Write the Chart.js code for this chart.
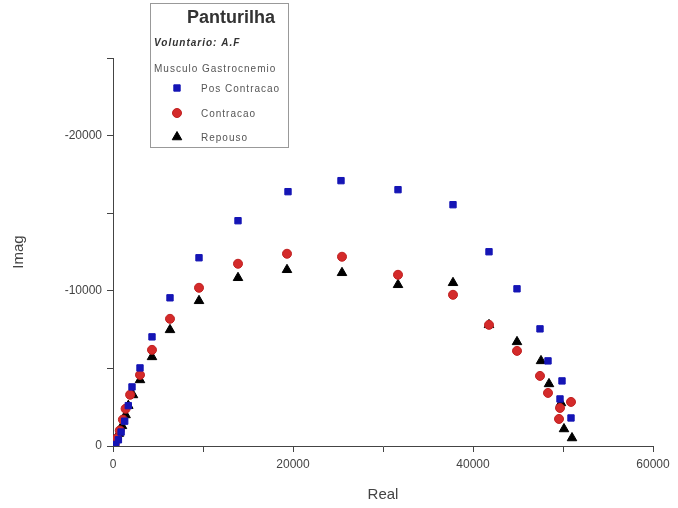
<!DOCTYPE html>
<html lang="pt">
<head>
<meta charset="UTF-8">
<title>Panturilha</title>
<script src="https://cdn.jsdelivr.net/npm/chart.js"></script>
<style>
  body { margin: 0; background: #fff; }
  #wrap { width: 678px; height: 508px; }
</style>
</head>
<body>
<div id="wrap"><canvas id="grafico" width="678" height="508"></canvas></div>
<script>
// dados (Real, Imag)
const posX = [300, 600, 900, 1300, 1700, 2111, 3000, 4333, 6333, 9556, 13889, 19444, 25333, 31667, 37778, 41778, 44889, 47444, 48333, 49889, 49667, 50889];
const posY = [-100, -400, -900, -1600, -2600, -3806, -5032, -7032, -9548, -12129, -14516, -16387, -17097, -16516, -15548, -12516, -10129, -7548, -5484, -4194, -3032, -1806];

const conX = [200, 450, 750, 1100, 1400, 1900, 3000, 4333, 6333, 9556, 13889, 19333, 25444, 31667, 37778, 41778, 44889, 47444, 48333, 49667, 50889, 49556];
const conY = [-150, -500, -1000, -1700, -2400, -3300, -4581, -6194, -8194, -10194, -11742, -12387, -12194, -11032, -9742, -7806, -6129, -4516, -3419, -2452, -2839, -1742];

const repX = [150, 350, 650, 1000, 1400, 1700, 2222, 3000, 4333, 6333, 9556, 13889, 19333, 25444, 31667, 37778, 41778, 44889, 47556, 48444, 49778, 50111, 51000];
const repY = [-100, -400, -800, -1300, -2000, -2600, -3290, -4258, -5742, -7484, -9355, -10839, -11355, -11161, -10387, -10516, -7806, -6710, -5484, -4000, -2774, -1097, -516];

const nomes = ['Pos Contracao', 'Contracao', 'Repouso'];

function pares(xs, ys) {
  return xs.map((x, i) => ({ x: x, y: ys[i] }));
}

// caixa de legenda desenhada no canvas
const caixaLegenda = {
  id: 'caixaLegenda',
  afterDraw(chart) {
    const ctx = chart.ctx;
    ctx.save();
    ctx.fillStyle = '#fff';
    ctx.fillRect(150, 3, 138, 144);
    ctx.strokeStyle = '#999';
    ctx.lineWidth = 1;
    ctx.strokeRect(150.5, 3.5, 138, 144);

    ctx.fillStyle = '#333';
    ctx.textBaseline = 'middle';
    ctx.font = 'bold 18px Arial';
    ctx.fillText('Panturilha', 187, 18);

    ctx.letterSpacing = '1px';
    ctx.font = 'italic bold 10px Arial';
    ctx.fillText('Voluntario: A.F', 154, 43);
    ctx.font = '10px Arial';
    ctx.fillStyle = '#555';
    ctx.fillText('Musculo Gastrocnemio', 154, 69);

    const linhas = [88, 113, 137];
    chart.data.datasets.forEach((ds, i) => {
      ctx.fillStyle = ds.backgroundColor;
      ctx.strokeStyle = ds.borderColor;
      Chart.helpers.drawPoint(ctx, {
        pointStyle: ds.pointStyle, radius: ds.pointRadius, rotation: 0, borderWidth: 1
      }, 177, linhas[i]);
      ctx.fillStyle = '#555';
      ctx.font = '10px Arial';
      ctx.fillText(nomes[i], 201, linhas[i] + 1);
    });
    ctx.restore();
  }
};

new Chart(document.getElementById('grafico'), {
  type: 'scatter',
  data: {
    datasets: [
      { label: nomes[0], data: pares(posX, posY), pointStyle: 'rect', pointRadius: 4.5,
        backgroundColor: '#1515b5', borderColor: '#1515b5', borderWidth: 1 },
      { label: nomes[1], data: pares(conX, conY), pointStyle: 'circle', pointRadius: 4.5,
        backgroundColor: '#d42a2a', borderColor: '#c02020', borderWidth: 1 },
      { label: nomes[2], data: pares(repX, repY), pointStyle: 'triangle', pointRadius: 5.5,
        backgroundColor: '#000', borderColor: '#000', borderWidth: 1 }
    ]
  },
  options: {
    responsive: false,
    animation: false,
    layout: { padding: { top: 58, right: 25, left: 0, bottom: 0 } },
    plugins: {
      legend: { display: false },
      tooltip: { enabled: false }
    },
    scales: {
      x: {
        type: 'linear', min: 0, max: 60000,
        afterFit(s) { s.height = 62; },
        border: { display: true, color: '#444', width: 1 },
        grid: { drawOnChartArea: false, color: '#444', tickLength: 6 },
        ticks: {
          stepSize: 10000, padding: 5, color: '#444', font: { family: 'Arial', size: 12 },
          maxRotation: 0,
          callback: v => (v % 20000 === 0 ? String(v) : '')
        },
        title: { display: true, text: 'Real', color: '#444', font: { family: 'Arial', size: 15 } }
      },
      y: {
        type: 'linear', min: -25000, max: 0, reverse: true,
        afterFit(s) { s.width = 113; },
        border: { display: true, color: '#444', width: 1 },
        grid: { drawOnChartArea: false, color: '#444', tickLength: 6 },
        ticks: {
          stepSize: 5000, padding: 5, color: '#444', font: { family: 'Arial', size: 12 },
          callback: v => (v % 10000 === 0 ? String(v) : '')
        },
        title: { display: true, text: 'Imag', color: '#444', padding: { top: 10, bottom: 4 },
          font: { family: 'Arial', size: 15 } }
      }
    }
  },
  plugins: [caixaLegenda]
});
</script>
</body>
</html>
